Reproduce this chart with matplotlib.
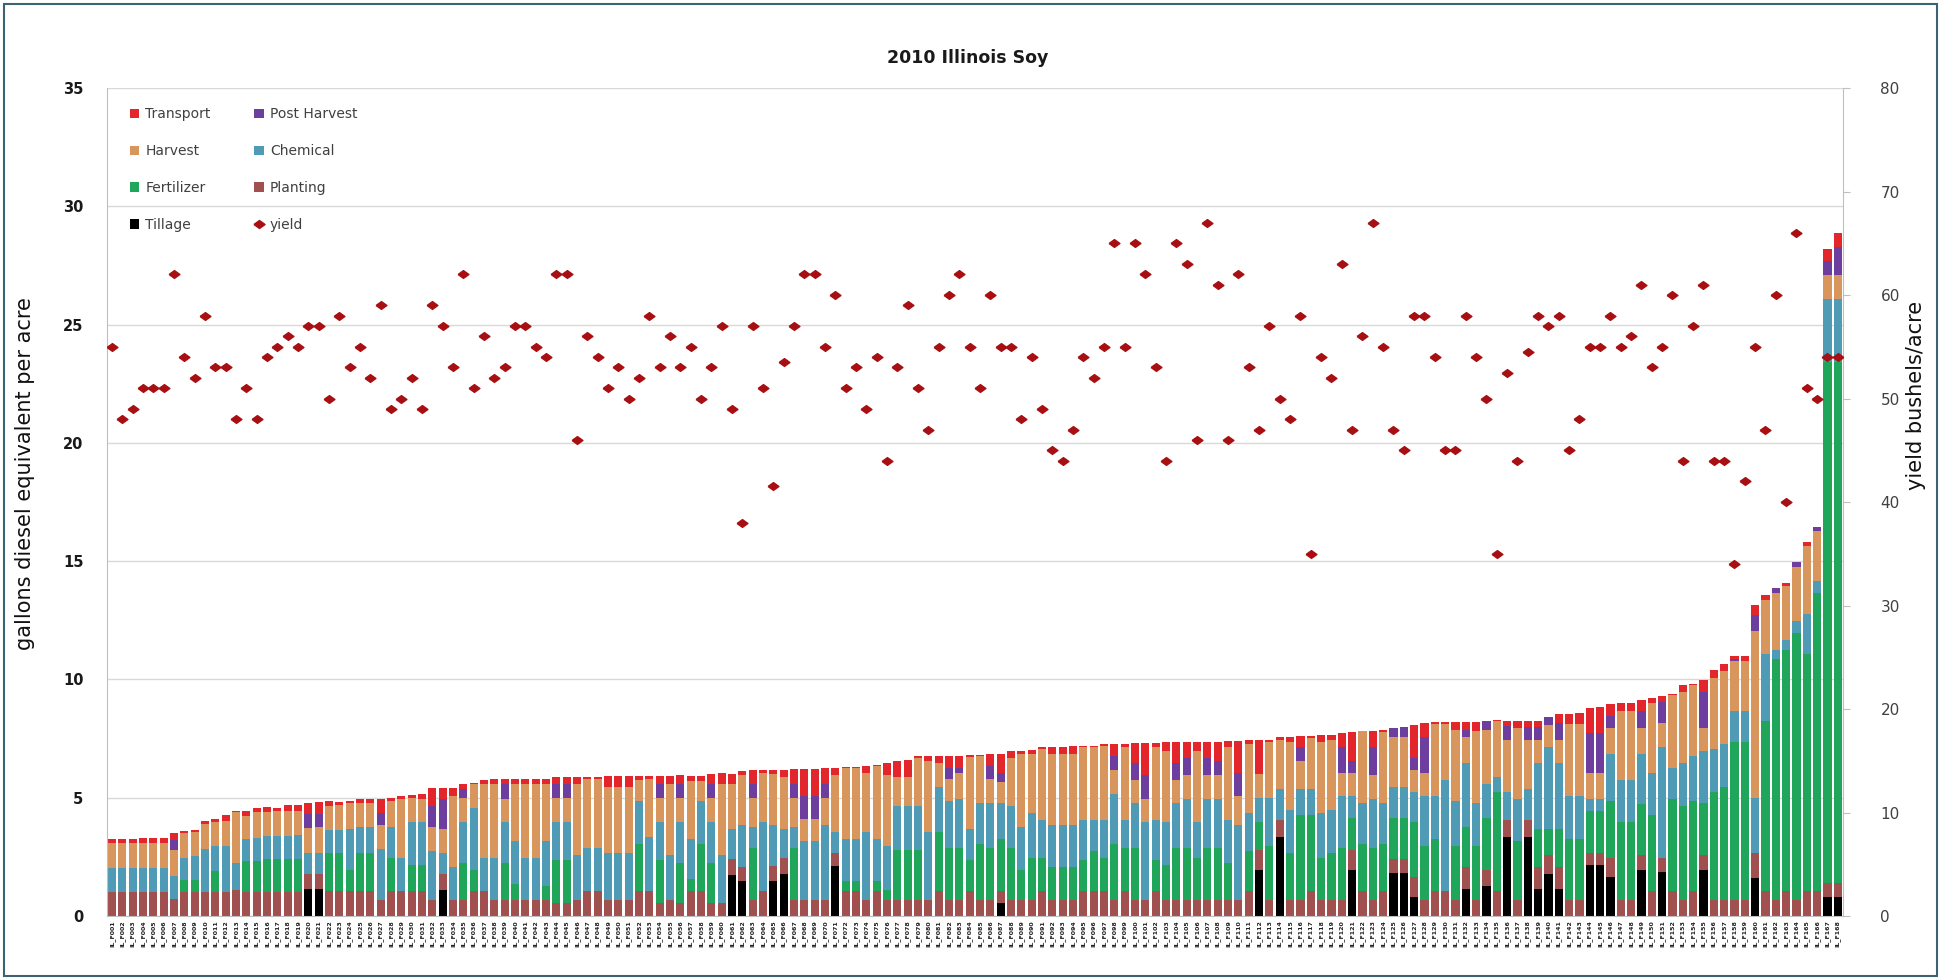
import numpy as np
import matplotlib.pyplot as plt
from matplotlib.patches import Patch, Rectangle
from matplotlib.lines import Line2D

# Diesel-equivalent energy use (gallons/acre) per field, split by operation.
# Fields are ordered by total use, lowest to highest.
tillage = [
    0, 0, 0, 0, 0, 0, 0, 0, 0, 0,
    0, 0, 0, 0, 0, 0, 0, 0, 0, 1.13,
    1.13, 0, 0, 0, 0, 0, 0, 0, 0, 0,
    0, 0, 1.12, 0, 0, 0, 0, 0, 0, 0,
    0, 0, 0, 0, 0, 0, 0, 0, 0, 0,
    0, 0, 0, 0, 0, 0, 0, 0, 0, 0,
    1.72, 1.46, 0, 0, 1.50, 1.76, 0, 0, 0, 0,
    2.12, 0, 0, 0, 0, 0, 0, 0, 0, 0,
    0, 0, 0, 0, 0, 0, 0.56, 0, 0, 0,
    0, 0, 0, 0, 0, 0, 0, 0, 0, 0,
    0, 0, 0, 0, 0, 0, 0, 0, 0, 0,
    0, 1.96, 0, 3.35, 0, 0, 0, 0, 0, 0,
    1.96, 0, 0, 0, 1.80, 1.80, 0.80, 0, 0, 0,
    0, 1.16, 0, 1.26, 0, 3.35, 0, 3.35, 1.16, 1.76,
    1.16, 0, 0, 2.15, 2.15, 1.66, 0, 0, 1.96, 0,
    1.86, 0, 0, 0, 1.96, 0, 0, 0, 0, 1.60,
    0, 0, 0, 0, 0, 0, 0.80, 0.80,
]
planting = [
    1.00, 1.00, 1.00, 1.00, 1.00, 1.00, 0.73, 1.02, 1.02, 1.02,
    1.02, 1.02, 1.10, 1.02, 1.02, 1.02, 1.02, 1.02, 1.02, 0.64,
    0.64, 1.06, 1.06, 1.06, 1.06, 1.06, 0.66, 1.06, 1.06, 1.06,
    1.06, 0.66, 0.64, 0.66, 0.66, 1.06, 1.06, 0.66, 0.66, 0.66,
    0.66, 0.66, 0.66, 0.56, 0.56, 0.66, 1.06, 1.06, 0.66, 0.66,
    0.66, 1.06, 1.06, 0.56, 0.66, 0.56, 1.06, 1.06, 0.56, 0.56,
    0.68, 0.60, 0.66, 1.06, 0.62, 0.70, 0.66, 0.66, 0.66, 0.66,
    0.54, 1.06, 1.06, 0.66, 1.06, 0.66, 0.66, 0.66, 0.66, 0.66,
    1.06, 0.66, 0.66, 1.06, 0.66, 0.66, 0.50, 0.66, 0.66, 0.66,
    1.06, 0.66, 0.66, 0.66, 1.06, 1.06, 1.06, 0.66, 1.06, 0.66,
    0.66, 1.06, 0.66, 0.66, 0.66, 0.66, 0.66, 0.66, 0.66, 0.66,
    1.06, 0.84, 0.66, 0.70, 0.66, 0.66, 1.06, 0.66, 0.66, 0.66,
    0.84, 1.06, 0.66, 1.06, 0.60, 0.60, 0.86, 0.66, 1.06, 1.06,
    0.66, 0.90, 0.66, 0.70, 1.06, 0.70, 0.66, 0.70, 0.90, 0.80,
    0.90, 0.66, 0.66, 0.50, 0.50, 0.80, 0.66, 0.66, 0.60, 1.06,
    0.60, 1.06, 0.66, 1.06, 0.60, 0.66, 0.66, 0.66, 0.66, 1.06,
    1.06, 0.66, 1.06, 0.66, 1.06, 1.06, 0.60, 0.60,
]
fertilizer = [
    0, 0, 0, 0, 0, 0, 0, 0.51, 0.51, 0,
    0.89, 0, 0, 1.30, 1.31, 1.38, 1.38, 1.38, 1.38, 0,
    0, 1.59, 1.59, 0.90, 1.59, 1.59, 0, 1.40, 0, 1.10,
    1.10, 0, 0, 0, 1.60, 0.90, 0, 0, 1.60, 0.70,
    0, 0, 0.60, 1.80, 1.80, 0, 0, 0, 0, 0,
    0, 2.00, 0, 1.80, 0, 1.70, 0.50, 2.00, 1.70, 0,
    0, 0, 2.20, 0, 0, 0, 2.20, 0, 0, 0,
    0, 0.40, 0.40, 0, 0.40, 0.46, 2.14, 2.14, 2.14, 0,
    2.50, 2.20, 2.20, 1.30, 2.40, 2.20, 2.20, 2.20, 1.30, 1.80,
    1.40, 1.40, 1.40, 1.40, 1.30, 1.70, 1.40, 2.40, 1.80, 2.20,
    0, 1.30, 1.50, 2.20, 2.20, 1.80, 2.20, 2.20, 1.60, 0,
    1.70, 1.16, 2.30, 0, 2.00, 3.60, 3.20, 1.80, 2.00, 2.20,
    1.36, 2.00, 2.20, 2.00, 1.76, 1.76, 2.30, 2.30, 2.20, 0,
    2.30, 1.70, 2.30, 2.20, 4.20, 0, 2.50, 0, 1.60, 1.10,
    1.60, 2.60, 2.60, 1.80, 1.80, 2.40, 3.30, 3.30, 2.16, 3.20,
    0, 3.90, 4.00, 3.80, 2.20, 4.60, 4.80, 6.70, 6.70, 0,
    7.20, 10.20, 10.20, 11.30, 10.00, 12.60, 22.00, 22.00,
]
chemical = [
    1.05, 1.05, 1.05, 1.05, 1.05, 1.05, 0.96, 0.94, 1.01, 1.83,
    1.03, 1.92, 1.16, 0.93, 0.98, 0.98, 0.98, 0.98, 1.01, 0.89,
    0.89, 1.00, 1.00, 1.70, 1.10, 1.10, 2.19, 1.30, 1.40, 1.80,
    1.80, 2.10, 0.90, 1.40, 1.70, 2.60, 1.40, 1.80, 1.70, 1.80,
    1.80, 1.80, 1.90, 1.60, 1.60, 1.90, 1.80, 1.80, 2.00, 2.00,
    2.00, 1.80, 2.30, 1.60, 1.90, 1.70, 1.70, 1.80, 1.70, 2.00,
    1.26, 1.80, 0.90, 2.90, 1.74, 1.20, 0.90, 2.50, 2.50, 3.20,
    0.90, 1.80, 1.80, 2.90, 1.80, 1.84, 1.86, 1.86, 1.86, 2.90,
    1.90, 2.00, 2.10, 1.30, 1.70, 1.90, 1.50, 1.80, 1.80, 1.90,
    1.60, 1.80, 1.80, 1.80, 1.70, 1.30, 1.60, 2.10, 1.20, 1.90,
    3.30, 1.70, 1.80, 1.90, 2.10, 1.50, 2.10, 2.10, 1.80, 3.20,
    1.60, 1.04, 2.04, 1.30, 1.80, 1.10, 1.10, 1.90, 1.80, 2.20,
    0.90, 1.70, 2.10, 1.70, 1.30, 1.30, 1.30, 2.10, 1.80, 4.70,
    1.90, 2.70, 1.80, 1.40, 0.60, 1.20, 1.80, 1.30, 2.80, 3.50,
    2.80, 1.80, 1.80, 0.50, 0.50, 2.00, 1.80, 1.80, 2.14, 1.80,
    4.70, 1.30, 1.80, 1.90, 2.20, 1.80, 1.80, 1.30, 1.30, 2.34,
    2.80, 0.40, 0.40, 0.50, 1.70, 0.50, 2.70, 2.70,
]
harvest = [
    1.03, 1.03, 1.03, 1.05, 1.05, 1.05, 1.10, 1.03, 1.02, 1.03,
    1.04, 1.09, 2.12, 0.99, 1.07, 1.03, 1.06, 1.06, 1.03, 1.08,
    1.10, 1.00, 1.04, 1.10, 1.04, 1.04, 1.00, 1.10, 2.50, 1.04,
    1.00, 1.00, 1.00, 3.00, 1.04, 1.00, 3.10, 3.10, 1.00, 2.40,
    3.10, 3.10, 2.40, 1.04, 1.04, 3.00, 2.94, 2.94, 2.80, 2.80,
    2.80, 0.90, 2.44, 1.04, 3.00, 1.04, 2.46, 0.86, 1.04, 3.00,
    1.90, 2.10, 1.24, 2.10, 2.14, 2.20, 1.24, 0.96, 0.96, 1.14,
    2.40, 3.00, 3.00, 2.50, 3.10, 3.00, 1.20, 1.20, 2.00, 3.00,
    1.00, 0.94, 1.10, 3.06, 2.00, 1.04, 0.90, 2.00, 3.10, 2.50,
    3.00, 3.00, 3.00, 3.00, 3.10, 3.10, 3.14, 1.00, 3.10, 1.00,
    1.00, 3.10, 3.00, 1.00, 1.00, 3.00, 1.00, 1.00, 3.10, 1.20,
    2.90, 1.00, 2.36, 2.10, 2.90, 1.20, 2.16, 3.00, 3.00, 1.00,
    1.00, 3.04, 1.00, 3.00, 2.10, 2.10, 0.90, 1.00, 3.06, 2.36,
    3.00, 1.10, 3.04, 2.30, 2.40, 2.20, 3.00, 2.10, 1.00, 0.90,
    1.00, 3.06, 3.06, 1.10, 1.10, 1.10, 2.90, 2.90, 1.10, 2.94,
    1.00, 3.10, 3.00, 3.00, 1.00, 3.00, 3.10, 2.10, 2.14, 7.04,
    2.30, 2.40, 2.30, 2.30, 2.90, 2.10, 1.00, 1.00,
]
post_harvest = [
    0, 0, 0, 0, 0, 0, 0.42, 0, 0, 0,
    0, 0, 0, 0, 0, 0, 0, 0, 0, 0.57,
    0.57, 0, 0, 0, 0, 0, 0.50, 0, 0, 0,
    0, 0.90, 1.30, 0, 0.36, 0, 0, 0, 0.60, 0,
    0, 0, 0, 0.56, 0.56, 0, 0, 0, 0, 0,
    0, 0, 0, 0.56, 0, 0.56, 0, 0, 0.56, 0,
    0, 0, 0.56, 0, 0, 0, 0.60, 0.94, 0.94, 0.60,
    0, 0, 0, 0, 0, 0, 0, 0, 0, 0,
    0, 0.46, 0.20, 0, 0, 0.56, 0.40, 0, 0, 0,
    0, 0, 0, 0, 0, 0, 0, 0.60, 0, 0.70,
    1.00, 0, 0, 0.70, 0.70, 0, 0.70, 0.60, 0, 1.00,
    0, 0, 0, 0, 0, 0.60, 0, 0, 0, 1.10,
    0.50, 0, 1.20, 0, 0.40, 0.44, 0.50, 1.50, 0, 0,
    0, 0.30, 0, 0.40, 0, 0.60, 0, 0.54, 0.54, 0.34,
    0.70, 0, 0, 1.70, 1.70, 0.50, 0, 0, 0.70, 0,
    0.90, 0, 0, 0, 1.50, 0, 0, 0.10, 0, 0.70,
    0, 0.20, 0, 0.20, 0, 0.20, 0.60, 1.20,
]
transport = [
    0.17, 0.17, 0.17, 0.19, 0.19, 0.19, 0.31, 0.10, 0.08, 0.15,
    0.14, 0.25, 0.05, 0.21, 0.20, 0.18, 0.12, 0.25, 0.26, 0.46,
    0.50, 0.20, 0.14, 0.12, 0.16, 0.16, 0.60, 0.14, 0.10, 0.12,
    0.20, 0.74, 0.44, 0.34, 0.20, 0.06, 0.20, 0.24, 0.24, 0.24,
    0.24, 0.24, 0.24, 0.30, 0.30, 0.30, 0.06, 0.06, 0.46, 0.46,
    0.46, 0.16, 0.12, 0.36, 0.36, 0.40, 0.20, 0.20, 0.44, 0.50,
    0.44, 0.16, 0.60, 0.10, 0.16, 0.30, 0.60, 1.14, 1.14, 0.66,
    0.30, 0.04, 0.04, 0.30, 0.04, 0.50, 0.70, 0.74, 0.10, 0.20,
    0.30, 0.50, 0.50, 0.08, 0.04, 0.50, 0.80, 0.30, 0.10, 0.14,
    0.10, 0.30, 0.30, 0.34, 0.04, 0.04, 0.06, 0.50, 0.10, 0.86,
    1.36, 0.16, 0.40, 0.90, 0.70, 0.40, 0.70, 0.80, 0.24, 1.34,
    0.20, 1.46, 0.10, 0.10, 0.20, 0.44, 0.08, 0.30, 0.20, 0.56,
    1.20, 0.04, 0.68, 0.10, 0, 0, 1.40, 0.60, 0.08, 0.08,
    0.34, 0.34, 0.40, 0, 0.02, 0.20, 0.30, 0.26, 0.26, 0,
    0.36, 0.44, 0.48, 1.04, 1.10, 0.50, 0.34, 0.34, 0.46, 0.20,
    0.26, 0.04, 0.30, 0.04, 0.50, 0.34, 0.30, 0.14, 0.20, 0.40,
    0.20, 0, 0.10, 0, 0.14, 0, 0.50, 0.56,
]

# soybean yield (bushels/acre) for the same fields
yield_bu = [
    55, 48, 49, 51, 51, 51, 62, 54, 52, 58,
    53, 53, 48, 51, 48, 54, 55, 56, 55, 57,
    57, 50, 58, 53, 55, 52, 59, 49, 50, 52,
    49, 59, 57, 53, 62, 51, 56, 52, 53, 57,
    57, 55, 54, 62, 62, 46, 56, 54, 51, 53,
    50, 52, 58, 53, 56, 53, 55, 50, 53, 57,
    49, 38, 57, 51, 41.5, 53.5, 57, 62, 62, 55,
    60, 51, 53, 49, 54, 44, 53, 59, 51, 47,
    55, 60, 62, 55, 51, 60, 55, 55, 48, 54,
    49, 45, 44, 47, 54, 52, 55, 65, 55, 65,
    62, 53, 44, 65, 63, 46, 67, 61, 46, 62,
    53, 47, 57, 50, 48, 58, 35, 54, 52, 63,
    47, 56, 67, 55, 47, 45, 58, 58, 54, 45,
    45, 58, 54, 50, 35, 52.5, 44, 54.5, 58, 57,
    58, 45, 48, 55, 55, 58, 55, 56, 61, 53,
    55, 60, 44, 57, 61, 44, 44, 34, 42, 55,
    47, 60, 40, 66, 51, 50, 54, 54,
]

field_ids = [f"IL_F{n:03d}" for n in range(1, len(yield_bu) + 1)]

series = [
    ("Tillage", tillage, "#000000"),
    ("Planting", planting, "#A0504F"),
    ("Fertilizer", fertilizer, "#1FA65A"),
    ("Chemical", chemical, "#4F9BB6"),
    ("Harvest", harvest, "#D8965C"),
    ("Post Harvest", post_harvest, "#6E3E9E"),
    ("Transport", transport, "#E3262B"),
]
yield_color = "#A80F12"
grid_color = "#D9D9D9"
spine_color = "#BFBFBF"

fig = plt.figure(figsize=(19.41, 9.80), dpi=100)
ax = fig.add_axes([0.0551, 0.0653, 0.8944, 0.8449])

x = np.arange(len(yield_bu))
bottom = np.zeros(len(x))
for name, vals, color in series:
    vals = np.array(vals)
    ax.bar(x, vals, width=0.78, bottom=bottom, color=color, linewidth=0, zorder=2)
    bottom += vals

ax.set_xlim(-0.5, len(x) - 0.5)
ax.set_ylim(0, 35)
ax.set_yticks(range(0, 36, 5))
ax.yaxis.grid(True, color=grid_color, lw=1)
ax.set_axisbelow(True)
ax.tick_params(axis="y", length=0, pad=17, labelsize=10.5, labelcolor="#1A1A1A")
for lbl in ax.get_yticklabels():
    lbl.set_fontweight("bold")
ax.set_xticks(x)
ax.set_xticklabels(field_ids, rotation=90, fontsize=4.5, fontweight="bold", color="#222222")
ax.tick_params(axis="x", length=0, pad=3)
for side in ["top", "right"]:
    ax.spines[side].set_visible(False)
ax.spines["left"].set_color(spine_color)
ax.spines["bottom"].set_color(spine_color)

# yield on the secondary axis
ax2 = ax.twinx()
diamond = [(-1, 0), (0, 0.72), (1, 0), (0, -0.72), (-1, 0)]
ax2.plot(x, yield_bu, ls="none", marker=diamond, ms=7.8, color=yield_color,
         mec=yield_color, zorder=3)
ax2.set_ylim(0, 80)
ax2.set_yticks(range(0, 81, 10))
ax2.tick_params(axis="y", direction="out", length=5, color=spine_color, pad=22,
                labelsize=11, labelcolor="#404040")
for side in ["top", "left", "bottom"]:
    ax2.spines[side].set_visible(False)
ax2.spines["right"].set_color(spine_color)

handles = {name: Patch(facecolor=color, edgecolor="none") for name, _, color in series}
handles["yield"] = Line2D([], [], ls="none", marker=diamond, ms=8, color=yield_color)
order = ["Transport", "Harvest", "Fertilizer", "Tillage",
         "Post Harvest", "Chemical", "Planting", "yield"]
ax2.legend([handles[k] for k in order], order, ncol=2, loc="upper left",
           bbox_to_anchor=(0.009, 0.985), frameon=False, fontsize=10,
           handlelength=0.7, handleheight=0.7, handletextpad=0.45,
           labelspacing=1.65, columnspacing=3.1, borderpad=0, labelcolor="#404040")

fig.text(0.4987, 0.941, "2010 Illinois Soy", ha="center", va="center",
         fontsize=12.5, fontweight="bold", color="#1A1A1A")
fig.text(0.013, 0.517, "gallons diesel equivalent per acre", rotation=90,
         ha="center", va="center", fontsize=15, color="#111111")
fig.text(0.987, 0.596, "yield bushels/acre", rotation=90,
         ha="center", va="center", fontsize=15, color="#111111")

fig.patches.append(Rectangle((0.002, 0.004), 0.996, 0.992, transform=fig.transFigure,
                             fill=False, edgecolor="#3D6275", lw=1.5))

fig.savefig("out.png", dpi=100)
